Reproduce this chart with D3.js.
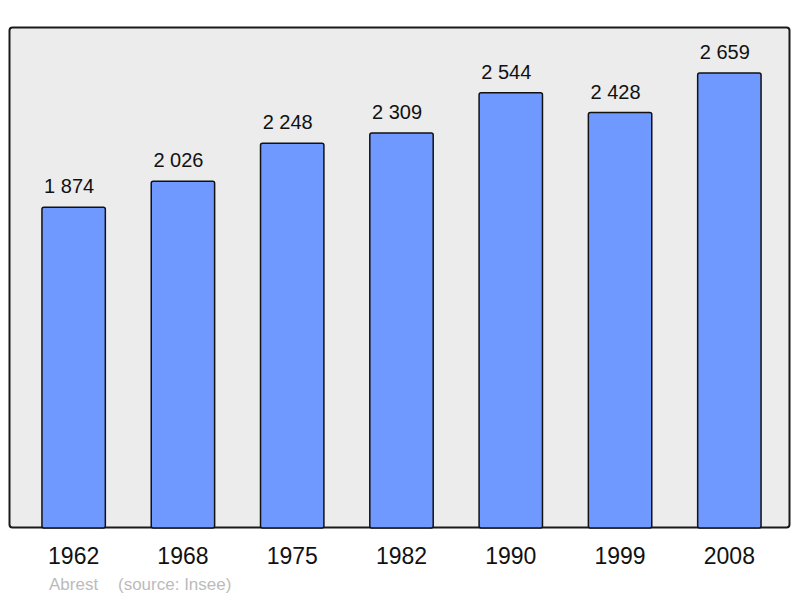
<!DOCTYPE html>
<html>
<head>
<meta charset="utf-8">
<script src="https://cdn.jsdelivr.net/npm/d3@7"></script>
<style>
  body { margin: 0; background: #fff; }
  text { font-family: "Liberation Sans", Arial, sans-serif; }
</style>
</head>
<body>
<div id="chart"></div>
<script>
var years = ["1962", "1968", "1975", "1982", "1990", "1999", "2008"];
var population = [1874, 2026, 2248, 2309, 2544, 2428, 2659];
var commune = "Abrest";
var sourceLabel = "(source: Insee)";

var width = 800, height = 598;
var fmt = function(v) { return d3.format(",")(v).replace(/,/g, " "); };

var svg = d3.select("#chart")
  .append("svg")
    .attr("width", width)
    .attr("height", height);

// frame
svg.append("rect")
  .attr("x", 9.5)
  .attr("y", 27.5)
  .attr("width", 780)
  .attr("height", 500)
  .attr("rx", 3)
  .attr("fill", "#ececec")
  .attr("stroke", "#1a1a1a")
  .attr("stroke-width", 2);

var x = d3.scaleBand()
  .domain(years)
  .range([19, 784])
  .paddingInner(0.42)
  .paddingOuter(0.21);

var y = d3.scaleLinear()
  .domain([0, 3000])
  .range([528, 14.7]);

var data = years.map(function(d, i) { return {year: d, value: population[i]}; });

svg.selectAll("rect.bar")
  .data(data)
  .enter()
  .append("rect")
    .attr("class", "bar")
    .attr("x", function(d) { return x(d.year); })
    .attr("y", function(d) { return y(d.value); })
    .attr("width", x.bandwidth())
    .attr("height", function(d) { return y(0) - y(d.value); })
    .attr("rx", 2)
    .attr("fill", "#7099ff")
    .attr("stroke", "#111")
    .attr("stroke-width", 1.5);

// value labels sit a little left of bar centre, as in the original
svg.selectAll("text.val")
  .data(data)
  .enter()
  .append("text")
    .attr("class", "val")
    .attr("x", function(d) { return x(d.year) + x.bandwidth() / 2 - 4.5; })
    .attr("y", function(d) { return y(d.value) - 14; })
    .attr("text-anchor", "middle")
    .style("font-size", "20px")
    .attr("fill", "#111")
    .text(function(d) { return fmt(d.value); });

// bottom year axis
var xAxis = svg.append("g")
  .attr("transform", "translate(0,528)")
  .call(d3.axisBottom(x).tickSize(0).tickPadding(20));
xAxis.select(".domain").remove();
xAxis.selectAll("text")
  .style("font-size", "23px")
  .style("font-family", "'Liberation Sans', Arial, sans-serif")
  .attr("fill", "#111");

svg.append("text")
  .attr("x", 49)
  .attr("y", 590)
  .style("font-size", "17px")
  .attr("fill", "#bbb")
  .text(commune);

svg.append("text")
  .attr("x", 118)
  .attr("y", 590)
  .style("font-size", "17px")
  .attr("fill", "#bbb")
  .text(sourceLabel);
</script>
</body>
</html>
